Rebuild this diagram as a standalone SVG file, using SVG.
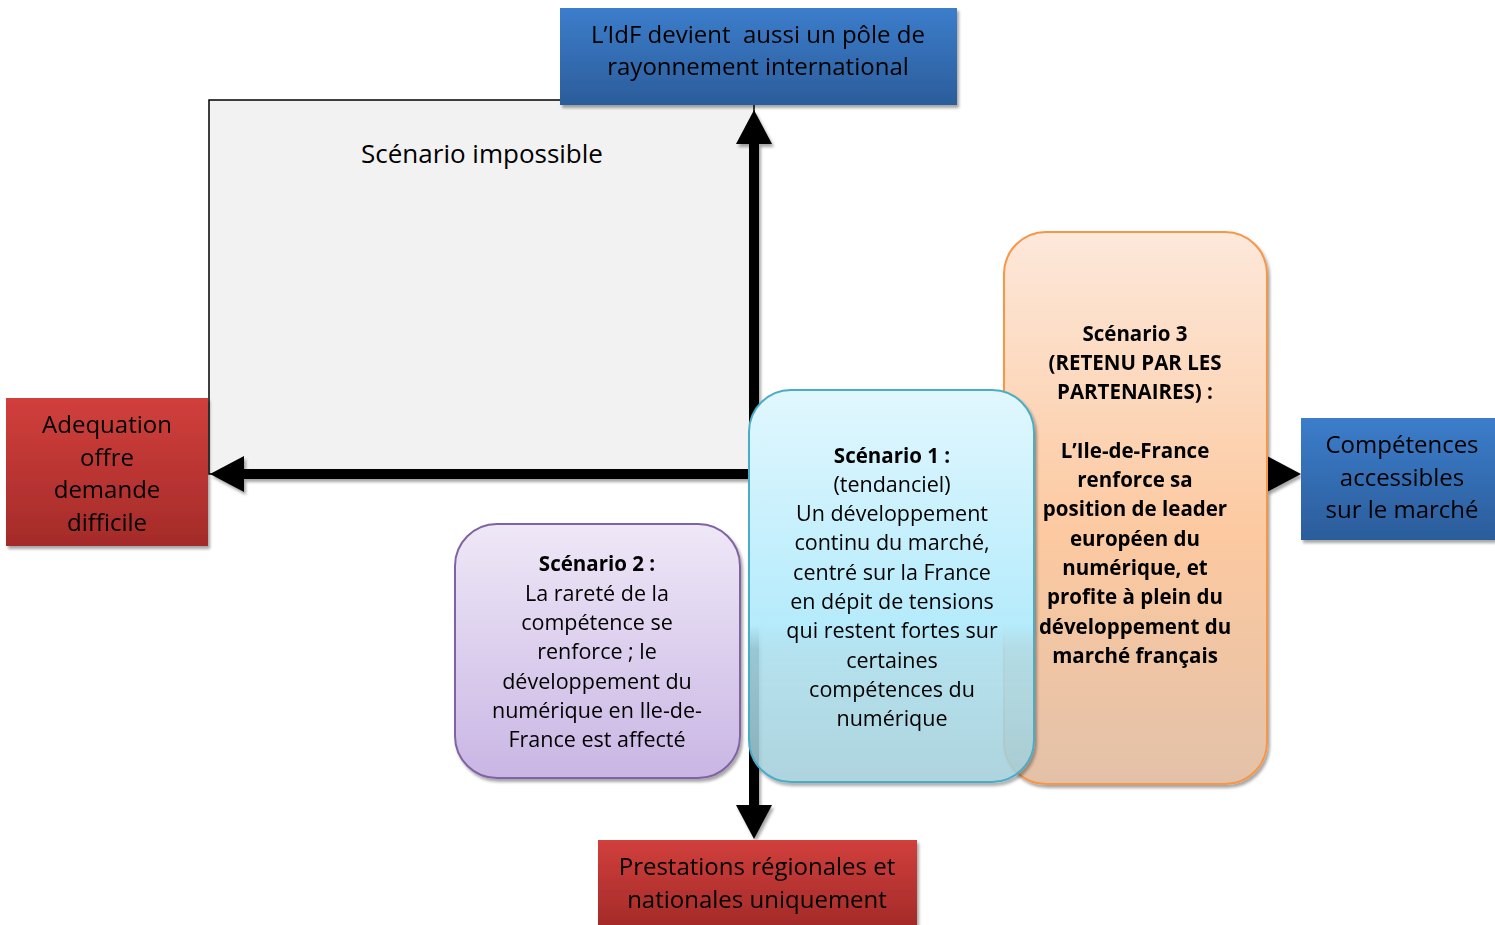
<svg xmlns="http://www.w3.org/2000/svg" width="1495" height="925" viewBox="0 0 1495 925">
  <style>
    text { font-family: "Open Sans", "Liberation Sans", sans-serif; fill: #000; text-anchor: middle; }
    .ax { font-size: 24px; }
    .sc { font-size: 21.5px; }
    .scb { font-size: 20.5px; font-weight: bold; }
    .axis { stroke: #000; stroke-width: 10; fill: none; }
  </style>
  <defs>
    <linearGradient id="gBlue" x1="0" y1="0" x2="0" y2="1">
      <stop offset="0" stop-color="#3c7dcb"/>
      <stop offset="1" stop-color="#2b5d9b"/>
    </linearGradient>
    <linearGradient id="gRed" x1="0" y1="0" x2="0" y2="1">
      <stop offset="0" stop-color="#d13f3c"/>
      <stop offset="1" stop-color="#a42b29"/>
    </linearGradient>
    <linearGradient id="gPurple" x1="0" y1="0" x2="0" y2="1">
      <stop offset="0" stop-color="#efe8f7"/>
      <stop offset="1" stop-color="#c9b6e4"/>
    </linearGradient>
    <linearGradient id="gCyan" x1="0" y1="0" x2="0" y2="1">
      <stop offset="0" stop-color="#e1f7fe"/>
      <stop offset="0.6" stop-color="#b5ebfb"/>
      <stop offset="0.66" stop-color="#b0e4f3" stop-opacity="0.85"/>
      <stop offset="1" stop-color="#a5d3df" stop-opacity="0.8"/>
    </linearGradient>
    <linearGradient id="gOrange" x1="0" y1="0" x2="0" y2="1">
      <stop offset="0" stop-color="#fde8da"/>
      <stop offset="0.55" stop-color="#fcc9a0"/>
      <stop offset="1" stop-color="#e3c1a8"/>
    </linearGradient>
    <filter id="shadow" x="-10%" y="-10%" width="125%" height="125%">
      <feDropShadow dx="2" dy="3" stdDeviation="1.5" flood-color="#000" flood-opacity="0.35"/>
    </filter>
    <marker id="head" viewBox="0 0 34 36" refX="0" refY="18" markerWidth="34" markerHeight="36" markerUnits="userSpaceOnUse" orient="auto-start-reverse">
      <path d="M0,0 L34,18 L0,36 Z" fill="#000"/>
    </marker>
  </defs>

  <!-- upper-left quadrant -->
  <g id="impossible">
    <rect x="209" y="100" width="545" height="374" fill="#f2f2f2" stroke="#000" stroke-width="1.5"/>
    <text x="482" y="163" font-size="26">Scénario impossible</text>
  </g>

  <!-- axes -->
  <g id="connectors" filter="url(#shadow)">
    <line class="axis" x1="754" y1="805" x2="754" y2="144" marker-start="url(#head)" marker-end="url(#head)"/>
    <line class="axis" x1="244" y1="474" x2="1267" y2="474" marker-start="url(#head)" marker-end="url(#head)"/>
  </g>

  <!-- axis end labels -->
  <g id="top-label" filter="url(#shadow)">
    <rect x="560" y="8" width="397" height="97" fill="url(#gBlue)"/>
    <text class="ax" x="758" y="43" xml:space="preserve">L’IdF devient  aussi un pôle de</text>
    <text class="ax" x="758" y="75">rayonnement international</text>
  </g>
  <g id="left-label" filter="url(#shadow)">
    <rect x="6" y="398" width="202" height="148" fill="url(#gRed)"/>
    <text class="ax" x="107" y="433">Adequation</text>
    <text class="ax" x="107" y="466">offre</text>
    <text class="ax" x="107" y="498">demande</text>
    <text class="ax" x="107" y="531">difficile</text>
  </g>
  <g id="right-label" filter="url(#shadow)">
    <rect x="1301" y="418" width="194" height="122" fill="url(#gBlue)"/>
    <text class="ax" x="1402" y="453">Compétences</text>
    <text class="ax" x="1402" y="486">accessibles</text>
    <text class="ax" x="1402" y="518">sur le marché</text>
  </g>
  <g id="bottom-label" filter="url(#shadow)">
    <rect x="598" y="840" width="319" height="85" fill="url(#gRed)"/>
    <text class="ax" x="757" y="875">Prestations régionales et</text>
    <text class="ax" x="757" y="908">nationales uniquement</text>
  </g>

  <!-- scenario 3 -->
  <g id="scenario3" filter="url(#shadow)">
    <rect x="1004" y="232" width="263" height="552" rx="42" fill="url(#gOrange)" stroke="#f79646" stroke-width="2"/>
    <text class="scb" x="1135" y="341">Scénario 3</text>
    <text class="scb" x="1135" y="370">(RETENU PAR LES</text>
    <text class="scb" x="1135" y="399">PARTENAIRES) :</text>
    <text class="scb" x="1135" y="458">L’Ile-de-France</text>
    <text class="scb" x="1135" y="487">renforce sa</text>
    <text class="scb" x="1135" y="516">position de leader</text>
    <text class="scb" x="1135" y="546">européen du</text>
    <text class="scb" x="1135" y="575">numérique, et</text>
    <text class="scb" x="1135" y="604">profite à plein du</text>
    <text class="scb" x="1135" y="634">développement du</text>
    <text class="scb" x="1135" y="663">marché français</text>
  </g>

  <!-- scenario 2 -->
  <g id="scenario2" filter="url(#shadow)">
    <rect x="455" y="524" width="285" height="254" rx="42" fill="url(#gPurple)" stroke="#8064a2" stroke-width="2"/>
    <text class="scb" x="597" y="571">Scénario 2 :</text>
    <text class="sc" x="597" y="601">La rareté de la</text>
    <text class="sc" x="597" y="630">compétence se</text>
    <text class="sc" x="597" y="659">renforce ; le</text>
    <text class="sc" x="597" y="689">développement du</text>
    <text class="sc" x="597" y="718">numérique en Ile-de-</text>
    <text class="sc" x="597" y="747">France est affecté</text>
  </g>

  <!-- scenario 1 -->
  <g id="scenario1" filter="url(#shadow)">
    <rect x="749" y="390" width="285" height="392" rx="42" fill="url(#gCyan)" stroke="#4bacc6" stroke-width="2"/>
    <text class="scb" x="892" y="463">Scénario 1 :</text>
    <text class="sc" x="892" y="492">(tendanciel)</text>
    <text class="sc" x="892" y="521">Un développement</text>
    <text class="sc" x="892" y="550">continu du marché,</text>
    <text class="sc" x="892" y="580">centré sur la France</text>
    <text class="sc" x="892" y="609">en dépit de tensions</text>
    <text class="sc" x="892" y="638">qui restent fortes sur</text>
    <text class="sc" x="892" y="668">certaines</text>
    <text class="sc" x="892" y="697">compétences du</text>
    <text class="sc" x="892" y="726">numérique</text>
  </g>
</svg>
